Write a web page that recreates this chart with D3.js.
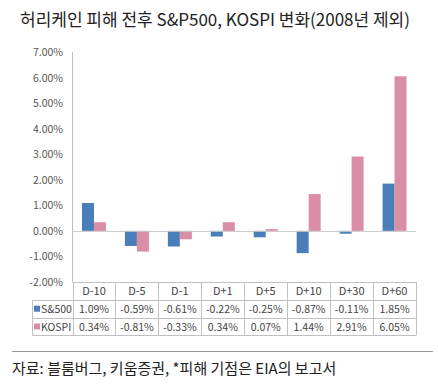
<!DOCTYPE html>
<html>
<head>
<meta charset="utf-8">
<script src="https://cdn.jsdelivr.net/npm/d3@7"></script>
<style>
  body { margin: 0; background: #fff; }
  svg { display: block; font-family: "Noto Sans CJK KR", "Noto Sans", sans-serif; }
</style>
</head>
<body>
<div id="chart"></div>
<script>
// 데이터
const categories = ['D-10', 'D-5', 'D-1', 'D+1', 'D+5', 'D+10', 'D+30', 'D+60'];
const spValues = [1.09, -0.59, -0.61, -0.22, -0.25, -0.87, -0.11, 1.85];
const kospiValues = [0.34, -0.81, -0.33, 0.34, 0.07, 1.44, 2.91, 6.05];
const seriesNames = ['S&500', 'KOSPI'];
const yTicks = [7, 6, 5, 4, 3, 2, 1, 0, -1, -2];

const colors = ['#4a7ebb', '#d98ea5'];
const width = 438, height = 386;

const svg = d3.select('#chart').append('svg')
  .attr('width', width)
  .attr('height', height);

// 제목
svg.append('text')
  .attr('x', 20).attr('y', 26)
  .attr('font-size', 17)
  .attr('fill', '#222')
  .text('허리케인 피해 전후 S&P500, KOSPI 변화(2008년 제외)');

const x = d3.scaleBand().domain(categories).range([72.5, 416]);
const y = d3.scaleLinear().domain([-2, 7]).range([282, 52]);

// y축 라벨
svg.selectAll('.ylab')
  .data(yTicks)
  .join('text')
  .attr('x', 63)
  .attr('y', d => y(d) + 4)
  .attr('text-anchor', 'end')
  .attr('font-size', 10.5)
  .attr('fill', '#555')
  .text(d => d.toFixed(2) + '%');

// 막대
const series = [spValues, kospiValues];
const barW = 12;
series.forEach((vals, si) => {
  svg.selectAll('.bar' + si)
    .data(vals)
    .join('rect')
    .attr('x', (d, i) => x(categories[i]) + x.bandwidth() / 2 - barW + si * barW)
    .attr('y', d => y(Math.max(0, d)))
    .attr('width', barW)
    .attr('height', d => Math.abs(y(d) - y(0)))
    .attr('fill', colors[si]);
});

// 축 선
svg.append('line')
  .attr('x1', 72.5).attr('x2', 72.5)
  .attr('y1', y(7)).attr('y2', y(-2))
  .attr('stroke', '#bfbfbf');
svg.append('line')
  .attr('x1', 72.5).attr('x2', 416)
  .attr('y1', y(0) + 0.5).attr('y2', y(0) + 0.5)
  .attr('stroke', '#c8c8c8');

// 데이터 테이블
const rowTop = 282, rowH = 17.8, legendLeft = 32.5;
const grid = svg.append('g').attr('stroke', '#c0c0c0').attr('fill', 'none');
// 가로선
grid.append('line').attr('x1', 72.5).attr('x2', 416).attr('y1', rowTop + 0.5).attr('y2', rowTop + 0.5);
[1, 2, 3].forEach(r => {
  grid.append('line')
    .attr('x1', legendLeft).attr('x2', 416)
    .attr('y1', Math.round(rowTop + r * rowH) + 0.5)
    .attr('y2', Math.round(rowTop + r * rowH) + 0.5);
});
// 세로선
const colEdges = categories.map(c => x(c)).concat([x.range()[1]]);
colEdges.forEach(cx => {
  grid.append('line')
    .attr('x1', Math.round(cx) + 0.5).attr('x2', Math.round(cx) + 0.5)
    .attr('y1', rowTop).attr('y2', Math.round(rowTop + 3 * rowH) + 0.5);
});
grid.append('line')
  .attr('x1', legendLeft).attr('x2', legendLeft)
  .attr('y1', Math.round(rowTop + rowH) + 0.5).attr('y2', Math.round(rowTop + 3 * rowH) + 0.5);

// 헤더
svg.selectAll('.hdr')
  .data(categories)
  .join('text')
  .attr('x', d => x(d) + x.bandwidth() / 2)
  .attr('y', rowTop + rowH / 2 + 4)
  .attr('text-anchor', 'middle')
  .attr('font-size', 11)
  .attr('fill', '#444')
  .text(d => d);

series.forEach((vals, si) => {
  const cy = rowTop + (si + 1) * rowH + rowH / 2;
  svg.append('rect')
    .attr('x', 34).attr('y', cy - 3)
    .attr('width', 6).attr('height', 6)
    .attr('fill', colors[si]);
  svg.append('text')
    .attr('x', 41).attr('y', cy + 4)
    .attr('font-size', 10.5)
    .attr('fill', '#444')
    .text(seriesNames[si]);
  svg.selectAll('.cell' + si)
    .data(vals)
    .join('text')
    .attr('x', (d, i) => x(categories[i]) + x.bandwidth() / 2)
    .attr('y', cy + 4)
    .attr('text-anchor', 'middle')
    .attr('font-size', 10.5)
    .attr('fill', '#444')
    .text(d => d.toFixed(2) + '%');
});

// 출처
svg.append('line')
  .attr('x1', 12).attr('x2', 433)
  .attr('y1', 351.5).attr('y2', 351.5)
  .attr('stroke', '#999');
svg.append('text')
  .attr('x', 12).attr('y', 374)
  .attr('font-size', 15)
  .attr('fill', '#222')
  .text('자료: 블룸버그, 키움증권, *피해 기점은 EIA의 보고서');
</script>
</body>
</html>
